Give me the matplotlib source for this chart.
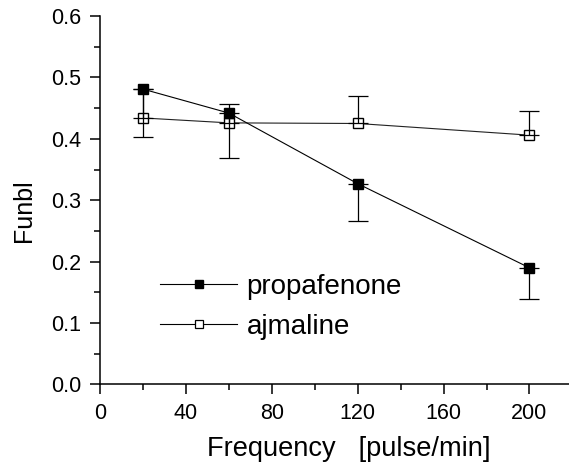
import matplotlib
matplotlib.use('Agg')
import matplotlib.pyplot as plt
from matplotlib.lines import Line2D
from matplotlib.ticker import MultipleLocator

plt.rcParams['font.family'] = ['Liberation Sans', 'DejaVu Sans']

# values
frequency = [20, 60, 120, 200]
propafenone = [0.481, 0.442, 0.327, 0.190]
propafenone_err = [0.078, 0.073, 0.060, 0.051]   # drawn downwards only
ajmaline = [0.434, 0.426, 0.425, 0.406]
ajmaline_err = [0.047, 0.031, 0.044, 0.040]      # drawn upwards only
series_names = ['propafenone', 'ajmaline']

fig = plt.figure(figsize=(5.69, 4.67), dpi=100)
ax = fig.add_axes([0.1757, 0.1767, 1.0 - 0.1757, 0.9657 - 0.1767])

zeros = [0] * len(frequency)
# ajmaline: line + open squares, error bar drawn over the marker
ax.plot(frequency, ajmaline, color='#222222', lw=0.8, marker='s', ms=7,
        mfc='white', mec='black', mew=1.0, zorder=3)
ax.errorbar(frequency, ajmaline, yerr=[zeros, ajmaline_err], fmt='none',
            ecolor='black', elinewidth=0.9, capsize=7, capthick=0.9, zorder=3.5)
# propafenone: filled squares on top
ax.errorbar(frequency, propafenone, yerr=[propafenone_err, zeros], color='black',
            lw=0.8, elinewidth=0.9, capsize=7, capthick=0.9, marker='s', ms=7.7,
            mfc='black', mec='black', zorder=4)

ax.set_xlim(0, 218.4)
ax.set_ylim(0, 0.6)
ax.xaxis.set_major_locator(MultipleLocator(40))
ax.xaxis.set_minor_locator(MultipleLocator(20))
ax.yaxis.set_major_locator(MultipleLocator(0.1))
ax.yaxis.set_minor_locator(MultipleLocator(0.05))
ax.yaxis.set_major_formatter(plt.FormatStrFormatter('%.1f'))

for side in ['top', 'right']:
    ax.spines[side].set_visible(False)
for side in ['left', 'bottom']:
    ax.spines[side].set_linewidth(1.1)
ax.tick_params(which='major', direction='out', length=7.5, width=1.1, pad=6, labelsize=15.5)
ax.tick_params(which='minor', direction='out', length=4, width=1.1)

ax.set_xlabel('Frequency   [pulse/min]', fontsize=19.6)
ax.xaxis.set_label_coords(0.53, -0.139)
ax.set_ylabel('Funbl', fontsize=18)
ax.yaxis.set_label_coords(-0.136, 0.471)

handles = [
    Line2D([], [], color='black', lw=0.8, marker='s', ms=6, mfc='black', mec='black'),
    Line2D([], [], color='black', lw=0.8, marker='s', ms=5.5, mfc='white', mec='black', mew=0.9),
]
ax.legend(handles, series_names, loc='upper left', bbox_to_anchor=(160 / 569, 1 - 274 / 467),
          bbox_transform=fig.transFigure, frameon=False, fontsize=20, handlelength=2.78,
          handletextpad=0.33, labelspacing=0.5, borderpad=0, borderaxespad=0)

fig.savefig('out.png', dpi=100)
